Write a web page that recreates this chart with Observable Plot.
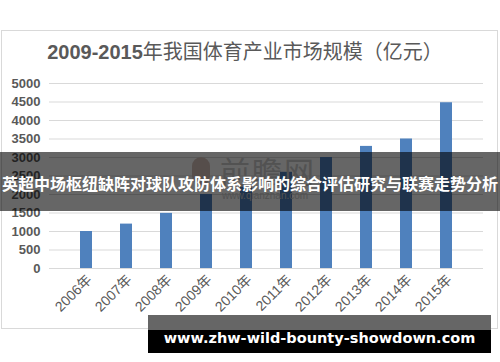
<!DOCTYPE html>
<html>
<head>
<meta charset="utf-8">
<script src="https://cdn.jsdelivr.net/npm/d3@7"></script>
<script src="https://cdn.jsdelivr.net/npm/@observablehq/plot@0.6"></script>
<style>
  html, body { margin: 0; padding: 0; background: #fff; }
  #wrap { position: relative; width: 500px; height: 362px; overflow: hidden; font-family: "Liberation Sans", "Noto Sans CJK SC", sans-serif; }
  #frame { position: absolute; left: 1px; top: 30px; width: 495px; height: 297px; border: 1px solid #d9d9d9; }
  #title { position: absolute; left: 0; width: 490px; top: 39px; text-align: center; font-size: 20px; color: #595959; line-height: 26px; white-space: nowrap; }
  #title b { font-weight: bold; }
  #chart { position: absolute; left: 0; top: 0; }
  #wm { position: absolute; left: 220px; top: 150px; font-size: 30px; color: #cccccc; font-family: "Noto Sans CJK SC", sans-serif; line-height: 40px; letter-spacing: 2px; }
  #wmlogo { position: absolute; left: 192px; top: 157px; width: 18px; height: 28px; border-radius: 9px; background: #d8c4bc; }
  #wmurl { position: absolute; left: 222px; top: 190px; font-size: 10px; color: #cccccc; }
  #band { position: absolute; left: 0; top: 152px; width: 500px; height: 59px; background: rgba(0,0,0,0.6); }
  #bandtext { position: absolute; left: 0; top: 172px; width: 500px; text-align: center; color: #fff; font-weight: bold; font-size: 16px; line-height: 22px; white-space: nowrap; font-family: "Noto Sans CJK SC", sans-serif; }
  #foot1 { position: absolute; left: 148px; top: 315px; width: 343px; height: 15px; background: #666; }
  #foot2 { position: absolute; left: 148px; top: 330px; width: 343px; height: 23px; background: #000; }
  #foottext { position: absolute; left: 148px; width: 343px; top: 327px; text-align: center; color: #fff; font-weight: bold; font-size: 14.5px; line-height: 22px; white-space: nowrap; font-family: "DejaVu Sans", sans-serif; }
</style>
</head>
<body>
<div id="wrap">
  <div id="frame"></div>
  <div id="title"><b>2009-2015</b>年我国体育产业市场规模（亿元）</div>
  <div id="chart"></div>
  <div id="wmlogo"></div>
  <div id="wm">前瞻网</div>
  <div id="wmurl">www.qianzhan.com</div>
  <div id="band"></div>
  <div id="bandtext">英超中场枢纽缺阵对球队攻防体系影响的综合评估研究与联赛走势分析</div>
  <div id="foot1"></div>
  <div id="foot2"></div>
  <div id="foottext">www.zhw-wild-bounty-showdown.com</div>
</div>
<script>
const years = ["2006年","2007年","2008年","2009年","2010年","2011年","2012年","2013年","2014年","2015年"];
const values = [1000, 1200, 1490, 2000, 2200, 2600, 3000, 3300, 3500, 4480];
const yTicks = [0, 500, 1000, 1500, 2000, 2500, 3000, 3500, 4000, 4500, 5000];

const data = years.map((y, i) => ({year: y, value: values[i]}));

const chart = Plot.plot({
  width: 500,
  height: 362,
  marginLeft: 49,
  marginRight: 17,
  marginTop: 83,
  marginBottom: 94,
  style: {background: "transparent", fontFamily: "'Liberation Sans', 'Noto Sans CJK SC', sans-serif"},
  x: {domain: years, padding: 0.7},
  y: {domain: [0, 5000]},
  marks: [
    Plot.gridY(yTicks, {stroke: "#d9d9d9", strokeOpacity: 1}),
    Plot.barY(data, {x: "year", y: "value", fill: "#4f81bd"}),
    Plot.axisY(yTicks, {tickSize: 0, tickPadding: 9, fontSize: 13, fontWeight: "bold", fill: "#595959", label: null, tickFormat: d => String(d)}),
    Plot.axisX({tickSize: 0, tickRotate: -45, tickPadding: 9, fontSize: 14, fill: "#595959", label: null, dx: 3})
  ]
});
document.getElementById("chart").appendChild(chart);
</script>
</body>
</html>
